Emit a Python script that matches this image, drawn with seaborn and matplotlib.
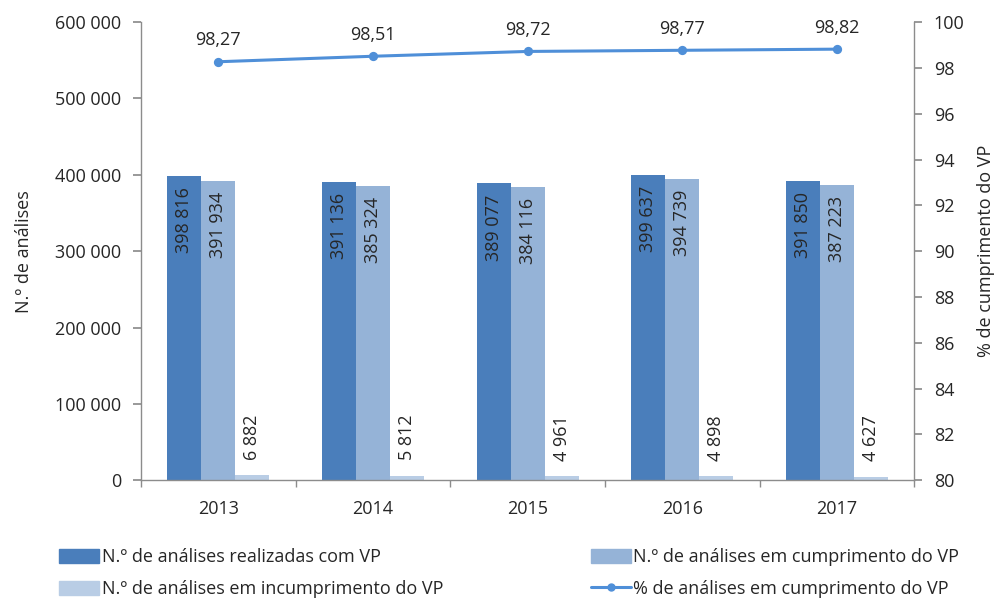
import matplotlib
matplotlib.use("Agg")
import matplotlib.pyplot as plt
import numpy as np
import pandas as pd
import seaborn as sns
from matplotlib.lines import Line2D
from matplotlib.patches import Patch
from matplotlib.ticker import FuncFormatter, MultipleLocator

years = ["2013", "2014", "2015", "2016", "2017"]
realizadas = [398816, 391136, 389077, 399637, 391850]
cumprimento = [391934, 385324, 384116, 394739, 387223]
incumprimento = [6882, 5812, 4961, 4898, 4627]
pct_cumprimento = [98.27, 98.51, 98.72, 98.77, 98.82]

series_names = [
    "N.º de análises realizadas com VP",
    "N.º de análises em cumprimento do VP",
    "N.º de análises em incumprimento do VP",
]
line_name = "% de análises em cumprimento do VP"
bar_colors = ["#4A7EBB", "#95B3D7", "#B9CDE5"]
line_color = "#4F8FD8"
spine_color = "#8C8C8C"
FS = 13

sns.set_theme(style="white")
plt.rcParams["font.family"] = ["Open Sans", "DejaVu Sans"]
plt.rcParams["font.size"] = FS

df = pd.DataFrame({
    "ano": years * 3,
    "serie": np.repeat(series_names, len(years)),
    "valor": realizadas + cumprimento + incumprimento,
})


def fmt_space(v, _pos=None):
    return f"{int(round(v)):,}".replace(",", " ")


fig = plt.figure(figsize=(9.99, 5.98), dpi=100)
ax = fig.add_axes([0.1411, 0.197, 0.774, 0.766])

sns.barplot(data=df, x="ano", y="valor", hue="serie", hue_order=series_names,
            palette=bar_colors, width=0.66, gap=0, saturation=1, ax=ax,
            legend=False, errorbar=None, linewidth=0)

ax.set_ylim(0, 600000)
ax.set_xlim(-0.5, len(years) - 0.5)
ax.yaxis.set_major_locator(MultipleLocator(100000))
ax.yaxis.set_major_formatter(FuncFormatter(fmt_space))
ax.set_xlabel("")
ax.set_ylabel("N.º de análises", fontsize=FS, labelpad=16)

# bar value labels
for container in ax.containers:
    for patch in container.patches:
        h = patch.get_height()
        xc = patch.get_x() + patch.get_width() / 2
        if h > 100000:
            ax.annotate(fmt_space(h), (xc, h), xytext=(0, -8), textcoords="offset points",
                        rotation=90, ha="center", va="top", fontsize=FS)
        else:
            ax.annotate(fmt_space(h), (xc, h), xytext=(0, 11), textcoords="offset points",
                        rotation=90, ha="center", va="bottom", fontsize=FS)

ax2 = ax.twinx()
sns.pointplot(x=years, y=pct_cumprimento, color=line_color, markers="o",
              markersize=5, linewidth=2.2, ax=ax2, errorbar=None)
ax2.set_ylim(80, 100)
ax2.set_xlim(-0.5, len(years) - 0.5)
ax2.yaxis.set_major_locator(MultipleLocator(2))
ax2.set_ylabel("% de cumprimento do VP", fontsize=FS, labelpad=9)
for i, v in enumerate(pct_cumprimento):
    ax2.annotate(f"{v:.2f}".replace(".", ","), (i, v), xytext=(0, 9),
                 textcoords="offset points", ha="center", va="bottom", fontsize=FS)

# spines and ticks
for a in (ax, ax2):
    a.spines["top"].set_visible(False)
    for side in ("left", "right", "bottom"):
        a.spines[side].set_color(spine_color)
        a.spines[side].set_linewidth(1)
ax.spines["right"].set_visible(False)
ax2.spines["left"].set_visible(False)
ax2.spines["bottom"].set_visible(False)

ax.tick_params(axis="y", direction="out", length=6, color=spine_color, left=True, pad=8,
               labelsize=FS)
ax2.tick_params(axis="y", direction="out", length=6, color=spine_color, right=True, pad=8,
                labelsize=FS)
ax.set_xticks(np.arange(len(years)))
ax.set_xticklabels(years)
ax.set_xticks(np.arange(len(years) + 1) - 0.5, minor=True)
ax.tick_params(axis="x", which="major", length=0, pad=14, labelsize=FS)
ax.tick_params(axis="x", which="minor", bottom=True, direction="out", length=5, color=spine_color)

handles = [
    Patch(color=bar_colors[0], label=series_names[0]),
    Patch(color=bar_colors[2], label=series_names[2]),
    Patch(color=bar_colors[1], label=series_names[1]),
    Line2D([0], [0], color=line_color, lw=2.2, marker="o", markersize=5, label=line_name),
]
fig.legend(handles=handles, ncol=2, loc="lower left", bbox_to_anchor=(0.043, -0.027),
           frameon=False, fontsize=FS, handlelength=2.2, handleheight=0.8,
           handletextpad=0.15, columnspacing=8.2, labelspacing=0.75)

fig.savefig("out.png", dpi=100)
